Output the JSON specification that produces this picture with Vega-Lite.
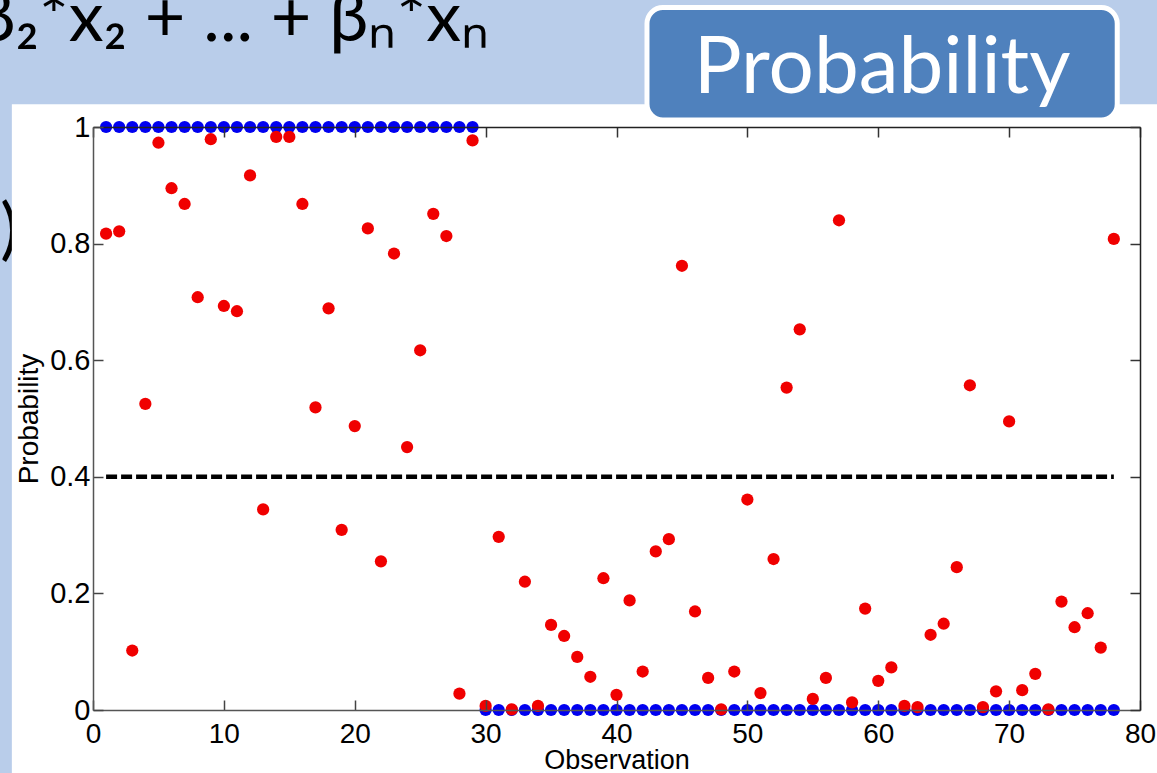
{
  "$schema": "https://vega.github.io/schema/vega-lite/v6.json",
  "width": 1047,
  "height": 583,
  "autosize": {"type": "none"},
  "padding": {"left": 93, "top": 127, "right": 17, "bottom": 63},
  "background": "#B9CDEA",
  "config": {"view": {"stroke": null}, "font": "Liberation Sans"},
  "datasets": {
    "obs": [
      {"obs": 1, "actual": 1, "pred": 0.817},
      {"obs": 2, "actual": 1, "pred": 0.821},
      {"obs": 3, "actual": 1, "pred": 0.102},
      {"obs": 4, "actual": 1, "pred": 0.525},
      {"obs": 5, "actual": 1, "pred": 0.973},
      {"obs": 6, "actual": 1, "pred": 0.895},
      {"obs": 7, "actual": 1, "pred": 0.868},
      {"obs": 8, "actual": 1, "pred": 0.708},
      {"obs": 9, "actual": 1, "pred": 0.979},
      {"obs": 10, "actual": 1, "pred": 0.693},
      {"obs": 11, "actual": 1, "pred": 0.684},
      {"obs": 12, "actual": 1, "pred": 0.917},
      {"obs": 13, "actual": 1, "pred": 0.344},
      {"obs": 14, "actual": 1, "pred": 0.983},
      {"obs": 15, "actual": 1, "pred": 0.983},
      {"obs": 16, "actual": 1, "pred": 0.868},
      {"obs": 17, "actual": 1, "pred": 0.519},
      {"obs": 18, "actual": 1, "pred": 0.689},
      {"obs": 19, "actual": 1, "pred": 0.309},
      {"obs": 20, "actual": 1, "pred": 0.487},
      {"obs": 21, "actual": 1, "pred": 0.826},
      {"obs": 22, "actual": 1, "pred": 0.255},
      {"obs": 23, "actual": 1, "pred": 0.783},
      {"obs": 24, "actual": 1, "pred": 0.451},
      {"obs": 25, "actual": 1, "pred": 0.617},
      {"obs": 26, "actual": 1, "pred": 0.851},
      {"obs": 27, "actual": 1, "pred": 0.813},
      {"obs": 28, "actual": 1, "pred": 0.028},
      {"obs": 29, "actual": 1, "pred": 0.977},
      {"obs": 30, "actual": 0, "pred": 0.007},
      {"obs": 31, "actual": 0, "pred": 0.297},
      {"obs": 32, "actual": 0, "pred": 0.001},
      {"obs": 33, "actual": 0, "pred": 0.220},
      {"obs": 34, "actual": 0, "pred": 0.007},
      {"obs": 35, "actual": 0, "pred": 0.146},
      {"obs": 36, "actual": 0, "pred": 0.127},
      {"obs": 37, "actual": 0, "pred": 0.091},
      {"obs": 38, "actual": 0, "pred": 0.057},
      {"obs": 39, "actual": 0, "pred": 0.226},
      {"obs": 40, "actual": 0, "pred": 0.026},
      {"obs": 41, "actual": 0, "pred": 0.188},
      {"obs": 42, "actual": 0, "pred": 0.066},
      {"obs": 43, "actual": 0, "pred": 0.272},
      {"obs": 44, "actual": 0, "pred": 0.293},
      {"obs": 45, "actual": 0, "pred": 0.762},
      {"obs": 46, "actual": 0, "pred": 0.169},
      {"obs": 47, "actual": 0, "pred": 0.055},
      {"obs": 48, "actual": 0, "pred": 0.001},
      {"obs": 49, "actual": 0, "pred": 0.066},
      {"obs": 50, "actual": 0, "pred": 0.361},
      {"obs": 51, "actual": 0, "pred": 0.029},
      {"obs": 52, "actual": 0, "pred": 0.259},
      {"obs": 53, "actual": 0, "pred": 0.553},
      {"obs": 54, "actual": 0, "pred": 0.653},
      {"obs": 55, "actual": 0, "pred": 0.019},
      {"obs": 56, "actual": 0, "pred": 0.055},
      {"obs": 57, "actual": 0, "pred": 0.840},
      {"obs": 58, "actual": 0, "pred": 0.013},
      {"obs": 59, "actual": 0, "pred": 0.174},
      {"obs": 60, "actual": 0, "pred": 0.050},
      {"obs": 61, "actual": 0, "pred": 0.073},
      {"obs": 62, "actual": 0, "pred": 0.007},
      {"obs": 63, "actual": 0, "pred": 0.005},
      {"obs": 64, "actual": 0, "pred": 0.129},
      {"obs": 65, "actual": 0, "pred": 0.148},
      {"obs": 66, "actual": 0, "pred": 0.245},
      {"obs": 67, "actual": 0, "pred": 0.557},
      {"obs": 68, "actual": 0, "pred": 0.005},
      {"obs": 69, "actual": 0, "pred": 0.032},
      {"obs": 70, "actual": 0, "pred": 0.495},
      {"obs": 71, "actual": 0, "pred": 0.034},
      {"obs": 72, "actual": 0, "pred": 0.062},
      {"obs": 73, "actual": 0, "pred": 0.001},
      {"obs": 74, "actual": 0, "pred": 0.186},
      {"obs": 75, "actual": 0, "pred": 0.142},
      {"obs": 76, "actual": 0, "pred": 0.166},
      {"obs": 77, "actual": 0, "pred": 0.107},
      {"obs": 78, "actual": 0, "pred": 0.808}
    ],
    "cutoff": [
      {"obs": 1, "threshold": 0.4},
      {"obs": 78, "threshold": 0.4}
    ]
  },
  "layer": [
    {
      "data": {"values": [{"t": ")"}]},
      "mark": {"type": "text", "font": "Lato", "fontSize": 68, "align": "right", "baseline": "middle", "color": "black", "clip": false},
      "encoding": {
        "text": {"field": "t"},
        "x": {"datum": -5.7, "type": "quantitative", "scale": {"domain": [0, 80], "nice": false}, "axis": null},
        "y": {"datum": 0.82, "type": "quantitative", "scale": {"domain": [0, 1], "nice": false}, "axis": null}
      }
    },
    {
      "data": {"values": [{"panel": "figure"}]},
      "mark": {"type": "rect", "color": "white", "clip": false},
      "encoding": {
        "x": {"datum": -6.2, "type": "quantitative", "scale": {"domain": [0, 80], "nice": false}, "axis": null},
        "x2": {"datum": 84},
        "y": {"datum": 1.039, "type": "quantitative", "scale": {"domain": [0, 1], "nice": false}, "axis": null},
        "y2": {"datum": -0.2}
      }
    },
    {
      "data": {"values": [{"t": "β₂*x₂ + ... + βₙ*xₙ"}]},
      "mark": {"type": "text", "font": "Lato", "fontSize": 70, "align": "left", "baseline": "alphabetic", "color": "black", "clip": false},
      "encoding": {
        "text": {"field": "t"},
        "x": {"datum": -8.9, "type": "quantitative", "scale": {"domain": [0, 80], "nice": false}, "axis": null},
        "y": {"datum": 1.148, "type": "quantitative", "scale": {"domain": [0, 1], "nice": false}, "axis": null}
      }
    },
    {
      "data": {"values": [{"button": "Probability"}]},
      "mark": {"type": "rect", "fill": "#4F81BD", "stroke": "white", "strokeWidth": 5, "cornerRadius": 16, "clip": false},
      "encoding": {
        "x": {"datum": 42.33, "type": "quantitative", "scale": {"domain": [0, 80], "nice": false}, "axis": null},
        "x2": {"datum": 78.26},
        "y": {"datum": 1.205, "type": "quantitative", "scale": {"domain": [0, 1], "nice": false}, "axis": null},
        "y2": {"datum": 1.012}
      }
    },
    {
      "data": {"values": [{"button": "Probability"}]},
      "mark": {"type": "text", "font": "Lato", "fontSize": 80, "align": "center", "baseline": "alphabetic", "color": "white", "clip": false},
      "encoding": {
        "text": {"field": "button"},
        "x": {"datum": 60.3, "type": "quantitative", "scale": {"domain": [0, 80], "nice": false}, "axis": null},
        "y": {"datum": 1.059, "type": "quantitative", "scale": {"domain": [0, 1], "nice": false}, "axis": null}
      }
    },
    {
      "data": {"name": "obs"},
      "mark": {"type": "point", "shape": "circle", "filled": true, "size": 150, "color": "#0000F0", "opacity": 1, "clip": false},
      "encoding": {
        "x": {
          "field": "obs", "type": "quantitative",
          "scale": {"domain": [0, 80], "nice": false},
          "axis": {
            "orient": "bottom", "values": [0, 10, 20, 30, 40, 50, 60, 70, 80], "zindex": 1,
            "grid": false, "domainColor": "#555555", "domainWidth": 1.5,
            "tickColor": "#444444", "tickSize": -10, "tickWidth": 1.5,
            "labelFontSize": 28, "labelColor": "black", "labelPadding": 20, "labelFlush": false,
            "title": "Observation", "titleFontSize": 27, "titleFontWeight": "normal", "titleColor": "black", "titlePadding": -1
          }
        },
        "y": {
          "field": "actual", "type": "quantitative",
          "scale": {"domain": [0, 1], "nice": false},
          "axis": {
            "orient": "left", "values": [0, 0.2, 0.4, 0.6, 0.8, 1], "format": "~g", "zindex": 1,
            "grid": false, "domainColor": "#555555", "domainWidth": 1.5,
            "tickColor": "#444444", "tickSize": -10, "tickWidth": 1.5,
            "labelFontSize": 29, "labelColor": "black", "labelPadding": 13, "labelFlush": false,
            "title": "Probability", "titleFontSize": 28, "titleFontWeight": "normal", "titleColor": "black", "titlePadding": 6
          }
        }
      }
    },
    {
      "data": {"name": "obs"},
      "mark": {"type": "point", "shape": "circle", "filled": true, "size": 150, "color": "#F00000", "opacity": 1, "clip": false},
      "encoding": {
        "x": {"field": "obs", "type": "quantitative", "scale": {"domain": [0, 80], "nice": false}, "axis": null},
        "y": {"field": "pred", "type": "quantitative", "scale": {"domain": [0, 1], "nice": false}, "axis": null}
      }
    },
    {
      "data": {"name": "cutoff"},
      "mark": {"type": "line", "color": "black", "strokeWidth": 4.5, "strokeDash": [11, 4], "strokeCap": "butt", "clip": false},
      "encoding": {
        "x": {
          "field": "obs", "type": "quantitative",
          "scale": {"domain": [0, 80], "nice": false},
          "axis": {
            "orient": "top", "values": [0, 10, 20, 30, 40, 50, 60, 70, 80], "zindex": 1,
            "grid": false, "labels": false, "title": null,
            "domainColor": "#222222", "domainWidth": 1.5,
            "tickColor": "#333333", "tickSize": -10, "tickWidth": 1.5
          }
        },
        "y": {
          "field": "threshold", "type": "quantitative",
          "scale": {"domain": [0, 1], "nice": false},
          "axis": {
            "orient": "right", "values": [0, 0.2, 0.4, 0.6, 0.8, 1], "zindex": 1,
            "grid": false, "labels": false, "title": null,
            "domainColor": "#222222", "domainWidth": 1.5,
            "tickColor": "#333333", "tickSize": -10, "tickWidth": 1.5
          }
        }
      }
    }
  ],
  "resolve": {"axis": {"x": "independent", "y": "independent"}}
}
